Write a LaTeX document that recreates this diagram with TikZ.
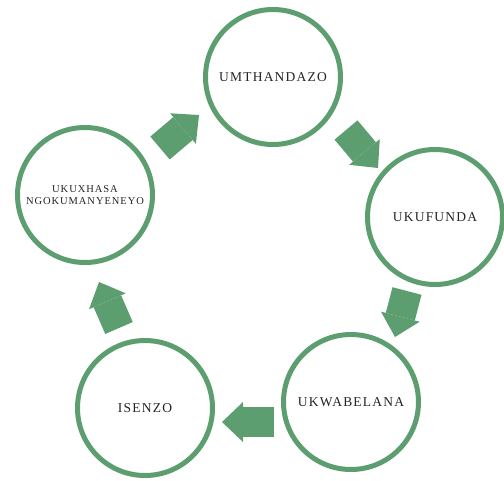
\documentclass[tikz,border=0pt]{standalone}
\usepackage{fontspec}
\setmainfont{Liberation Serif}[LetterSpace=9]
\usetikzlibrary{arrows.meta}
\definecolor{leaf}{RGB}{93,158,112}
\definecolor{ink}{RGB}{35,35,35}
\begin{document}
\begin{tikzpicture}[x=1pt, y=-1pt]
\tikzstyle{stage}=[circle,draw=leaf,line width=5pt,minimum size=135pt,inner sep=0pt,text=ink,align=center,font=\fontsize{13.5}{15}\selectfont]
\tikzstyle{flow}=[draw=leaf,line width=30pt,-{Triangle[length=21pt,width=40pt,line width=0pt]}]
\useasboundingbox (0,0) rectangle (504,480);

\node[stage](umth) at (273,77) {UMTHANDAZO};
\node[stage](ukuf) at (435,217) {UKUFUNDA};
\node[stage](ukwa) at (351,402) {UKWABELANA};
\node[stage](isen) at (145,408) {ISENZO};
\node[stage,font=\fontsize{10.5}{12.5}\selectfont](ukux) at (85,195) {UKUXHASA\\NGOKUMANYENEYO};

\draw[flow] ([shift={(75,-47)}]ukux.center) -- ([shift={(-74,38)}]umth.center);
\draw[flow] ([shift={(73,53)}]umth.center) -- ([shift={(-57,-49)}]ukuf.center);
\draw[flow] ([shift={(-28,74)}]ukuf.center) -- ([shift={(44,-65)}]ukwa.center);
\draw[flow] ([shift={(-77,20)}]ukwa.center) -- ([shift={(77,14)}]isen.center);
\draw[flow] ([shift={(-26,-80)}]isen.center) -- ([shift={(14,87)}]ukux.center);

\end{tikzpicture}
\end{document}
